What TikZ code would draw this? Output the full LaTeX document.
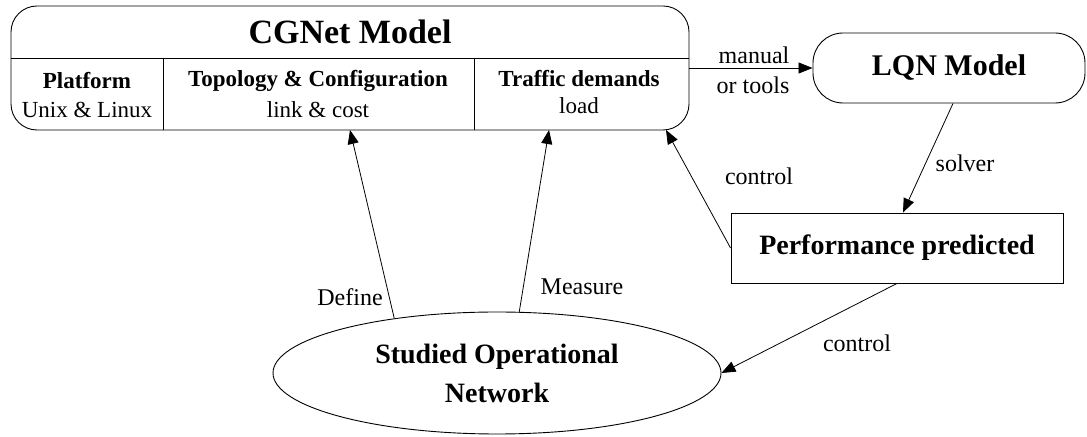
\documentclass[tikz,border=0pt]{standalone}
\usepackage{fontspec}
\setmainfont{Liberation Serif}
\usetikzlibrary{positioning,shapes.geometric,arrows.meta}

\begin{document}
\begin{tikzpicture}[x=0.5pt,y=-0.5pt,
	box/.style={draw, line width=0.45pt, inner sep=0pt},
	lbl/.style={font=\fontsize{12}{14}\selectfont, inner sep=0pt},
	sub/.style={font=\fontsize{11.5}{13}\selectfont, inner sep=0pt},
	subhead/.style={font=\bfseries\fontsize{11.5}{13}\selectfont, inner sep=0pt},
	arr/.style={-{Triangle[length=7pt,width=5.5pt]}}]
	\useasboundingbox (0,0) rectangle (1087,437);
	% CGNet model, title row and three columns
	\node[box, rounded corners=13pt, minimum width=339pt, minimum height=62pt] (cgnet) at (350,68) {};
	\node[font=\bfseries\fontsize{17}{20}\selectfont, inner sep=0pt] (cgtitle) at (350,32) {CGNet Model};
	\begin{scope}[line width=0.45pt]
	\draw (11,58) -- (689,58);
	\draw (163,58) -- (163,130);
	\draw (474,58) -- (474,130);
	\end{scope}
	\node[subhead] (plat) at (87,81) {Platform};
	\node[sub] (platos) at (87,110) {Unix \& Linux};
	\node[subhead] (topo) at (318,81) {Topology \& Configuration};
	\node[sub] (topolink) at (318,110) {link \& cost};
	\node[subhead] (traf) at (579,79) {Traffic demands};
	\node[sub] (trafload) at (579,106) {load};
	% other models
	\node[box, rounded corners=15pt, minimum width=136pt, minimum height=35pt,
		font=\bfseries\fontsize{15}{18}\selectfont] (lqn) at (949,68) {LQN Model};
	\node[box, minimum width=166pt, minimum height=35pt,
		font=\bfseries\fontsize{14}{17}\selectfont] (perf) at (897,248) {Performance predicted};
	\node[box, ellipse, minimum width=224pt, minimum height=61pt, align=center,
		font=\bfseries\fontsize{14}{19.5}\selectfont] (son) at (497,373) {Studied Operational\\Network};
	% arrow ends on the CGNet box
	\coordinate (deftip) at (350,130);
	\coordinate (meastip) at (549,130);
	\coordinate (ctltip) at (666,130);
	\begin{scope}[line width=0.4pt]
	\draw[arr] (cgnet.east) -- (lqn.west);
	\draw[arr] ([xshift=2pt]lqn.south) -- ([xshift=3pt]perf.north);
	\draw[arr] (perf.west) -- (ctltip);
	\draw[arr] (perf.south) -- (son.east);
	\draw[arr] (son.152) -- (deftip);
	\draw[arr] (son.70) -- (meastip);
	\end{scope}
	\node[lbl] (manlbl) at (754,55) {manual};
	\node[lbl] (toollbl) at (753,85) {or tools};
	\node[lbl] (solvlbl) at (965,163) {solver};
	\node[lbl] (ctllbl) at (759,176) {control};
	\node[lbl] (ctl2lbl) at (857,343) {control};
	\node[lbl] (deflbl) at (350,297) {Define};
	\node[lbl] (measlbl) at (582,287) {Measure};
\end{tikzpicture}
\end{document}
